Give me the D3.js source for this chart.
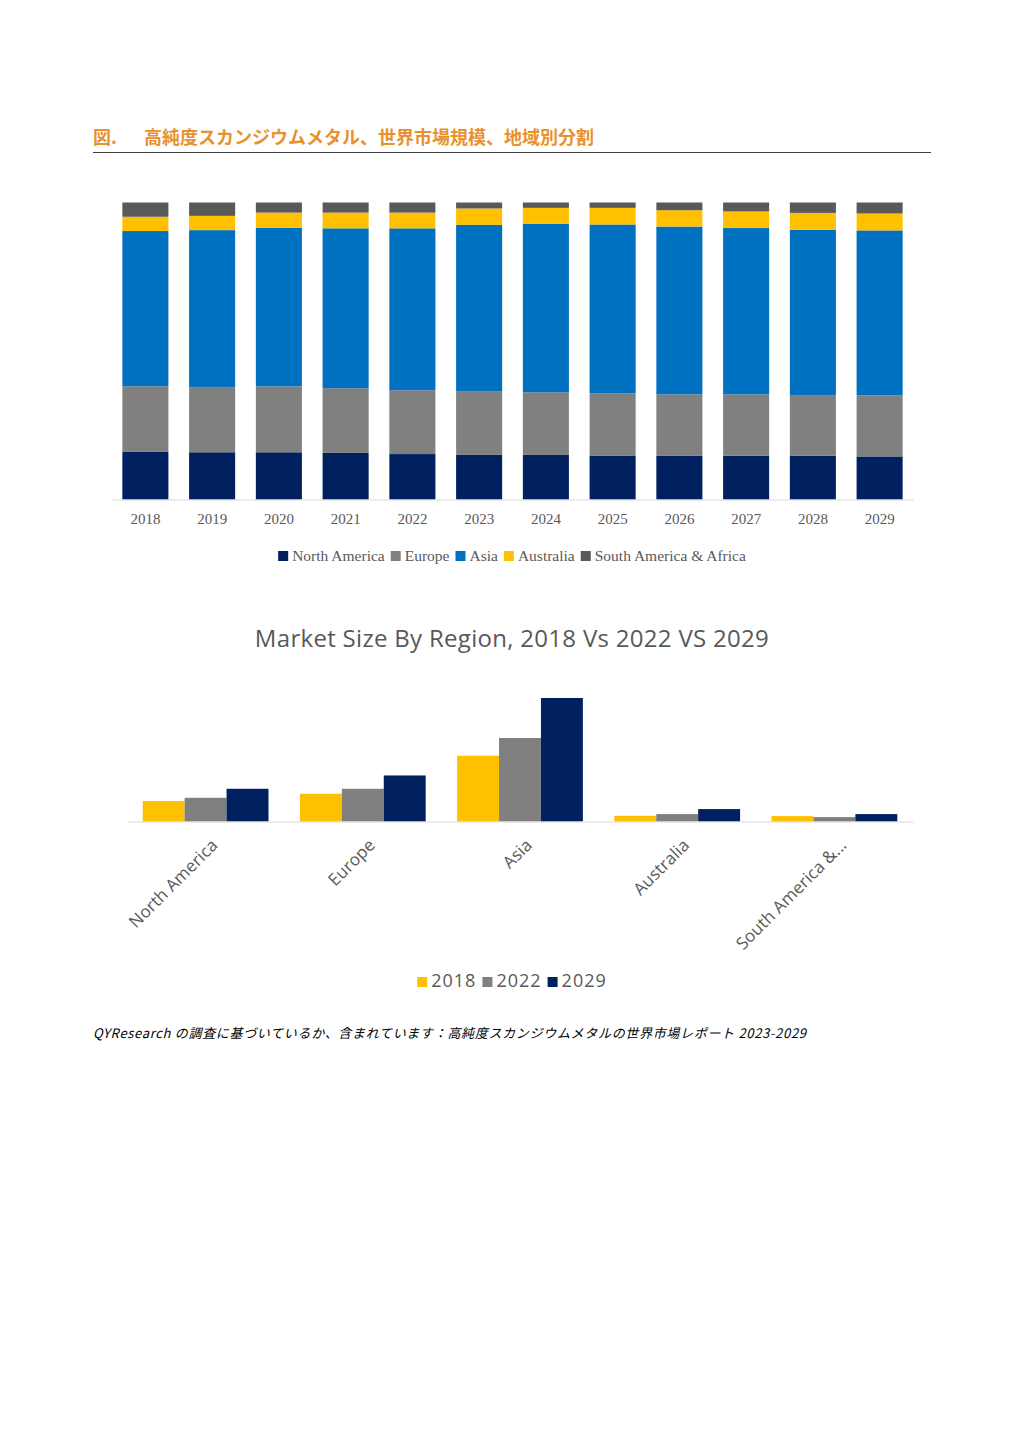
<!DOCTYPE html>
<html>
<head>
<meta charset="utf-8">
<script src="https://cdn.jsdelivr.net/npm/d3@7"></script>
<style>
  body { margin: 0; background: #fff; }
  svg { display: block; }
</style>
</head>
<body>
<svg id="page" width="1024" height="1448"></svg>
<script>
// Stacked share by region, percent per year
const years = ["2018","2019","2020","2021","2022","2023","2024","2025","2026","2027","2028","2029"];
const northAmerica = [16.0,15.9,15.9,15.7,15.3,15.0,15.0,14.8,14.8,14.7,14.7,14.5];
const europe = [22.1,22.0,22.2,21.8,21.5,21.3,21.1,20.9,20.6,20.7,20.5,20.6];
const asia = [52.2,52.8,53.4,53.9,54.5,56.1,56.7,56.9,56.5,56.0,55.6,55.5];
const australia = [4.8,4.8,5.1,5.3,5.3,5.5,5.4,5.6,5.5,5.6,5.7,5.7];
const southAmericaAfrica = [4.8,4.5,3.4,3.4,3.4,2.0,1.8,1.8,2.6,3.0,3.5,3.7];
const regionNames = ["North America","Europe","Asia","Australia","South America & Africa"];

// Market size by region for 2018 / 2022 / 2029
const regionLabels = ["North America","Europe","Asia","Australia","South America &..."];
const compareYears = ["2018","2022","2029"];
const size2018 = [20.4,27.7,65.7,5.7,5.4];
const size2022 = [23.7,32.7,83.4,7.4,4.4];
const size2029 = [32.7,46.0,123.4,12.4,7.4];

const svg = d3.select("#page");

// ---- header
svg.append("text")
  .attr("x", 93).attr("y", 144)
  .style("font-family", "'Noto Sans CJK JP'")
  .style("font-size", "18px")
  .style("font-weight", "bold")
  .style("fill", "#E8912D")
  .text("図.");
svg.append("text")
  .attr("x", 144).attr("y", 144)
  .style("font-family", "'Noto Sans CJK JP'")
  .style("font-size", "18px")
  .style("font-weight", "bold")
  .style("fill", "#E8912D")
  .text("高純度スカンジウムメタル、世界市場規模、地域別分割");
svg.append("line")
  .attr("x1", 93).attr("x2", 931).attr("y1", 152.5).attr("y2", 152.5)
  .style("stroke", "#404040").style("stroke-width", 1);

// ---- stacked chart
const stackColors = ["#002060","#808080","#0070C0","#FFC000","#595959"];
const rows = years.map((y, i) => ({
  year: y,
  "North America": northAmerica[i],
  "Europe": europe[i],
  "Asia": asia[i],
  "Australia": australia[i],
  "South America & Africa": southAmericaAfrica[i]
}));
const series = d3.stack().keys(regionNames).offset(d3.stackOffsetExpand)(rows);

const x1 = d3.scaleBand().domain(years).range([112, 913]).paddingInner(0.31).paddingOuter(0.155);
const y1 = d3.scaleLinear().domain([0, 1]).range([499.5, 202.5]);

svg.append("g").selectAll("g")
  .data(series)
  .join("g")
  .attr("fill", (d, i) => stackColors[i])
  .selectAll("rect")
  .data(d => d)
  .join("rect")
  .attr("x", d => x1(d.data.year))
  .attr("width", x1.bandwidth())
  .attr("y", d => y1(d[1]))
  .attr("height", d => y1(d[0]) - y1(d[1]));

const ax1 = svg.append("g")
  .attr("transform", "translate(0,499.5)")
  .call(d3.axisBottom(x1).tickSize(0).tickPadding(14));
ax1.select(".domain").style("stroke", "#d9d9d9");
ax1.selectAll("text")
  .style("font-family", "'Liberation Serif'")
  .style("font-size", "15px")
  .style("fill", "#595959");

// legend for stacked chart
const leg1 = svg.append("g");
let lx = 0;
regionNames.forEach((name, i) => {
  const g = leg1.append("g").attr("transform", `translate(${lx},0)`);
  g.append("rect").attr("x", 0).attr("y", -10).attr("width", 10).attr("height", 10)
    .attr("fill", stackColors[i]);
  const t = g.append("text").attr("x", 14).attr("y", 0)
    .style("font-family", "'Liberation Serif'")
    .style("font-size", "15.5px")
    .style("fill", "#595959")
    .text(name);
  lx += 14 + t.node().getComputedTextLength() + 6;
});
leg1.attr("transform", `translate(${512 - (lx - 6) / 2},561)`);

// ---- grouped chart
const groupColors = ["#FFC000","#808080","#002060"];
const sizes = [size2018, size2022, size2029];

svg.append("text")
  .attr("x", 512).attr("y", 647)
  .attr("text-anchor", "middle")
  .style("font-family", "'Open Sans'")
  .style("font-size", "24px")
  .style("letter-spacing", "0.3px")
  .style("fill", "#595959")
  .text("Market Size By Region, 2018 Vs 2022 VS 2029");

const x2 = d3.scaleBand().domain(regionLabels).range([127, 913]).paddingInner(0.2).paddingOuter(0.1);
const xs = d3.scaleBand().domain(compareYears).range([0, x2.bandwidth()]);
const y2 = d3.scaleLinear().domain([0, 123.4]).range([821.5, 698]);

const groups = svg.append("g").selectAll("g")
  .data(regionLabels)
  .join("g")
  .attr("transform", d => `translate(${x2(d)},0)`);

groups.selectAll("rect")
  .data((d, i) => compareYears.map((yr, k) => ({ yr, v: sizes[k][i], k })))
  .join("rect")
  .attr("x", d => xs(d.yr))
  .attr("width", xs.bandwidth())
  .attr("y", d => y2(d.v))
  .attr("height", d => y2(0) - y2(d.v))
  .attr("fill", d => groupColors[d.k]);

const ax2 = svg.append("g")
  .attr("transform", "translate(0,821.5)")
  .call(d3.axisBottom(x2).tickSize(0).tickFormat(""));
ax2.select(".domain").style("stroke", "#d9d9d9");

svg.append("g").selectAll("text")
  .data(regionLabels)
  .join("text")
  .attr("transform", d => `translate(${x2(d) + x2.bandwidth() / 2 + 9},842) rotate(-45)`)
  .attr("text-anchor", "end")
  .attr("dy", "0.35em")
  .style("font-family", "'Open Sans'")
  .style("font-size", "17px")
  .style("letter-spacing", "0.1px")
  .style("fill", "#595959")
  .text(d => d);

// legend for grouped chart
const leg2 = svg.append("g");
let lx2 = 0;
compareYears.forEach((yr, i) => {
  const g = leg2.append("g").attr("transform", `translate(${lx2},0)`);
  g.append("rect").attr("x", 0).attr("y", -10).attr("width", 10).attr("height", 10)
    .attr("fill", groupColors[i]);
  const t = g.append("text").attr("x", 14).attr("y", 0)
    .style("font-family", "'Open Sans'")
    .style("font-size", "18px")
    .style("letter-spacing", "1px")
    .style("fill", "#595959")
    .text(yr);
  lx2 += 14 + t.node().getComputedTextLength() + 6;
});
leg2.attr("transform", `translate(${512 - (lx2 - 6) / 2},987)`);

// ---- source note
svg.append("text")
  .attr("x", 93).attr("y", 1038)
  .attr("textLength", 713)
  .attr("lengthAdjust", "spacing")
  .style("font-family", "'Noto Sans CJK JP'")
  .style("font-size", "13px")
  .style("font-style", "italic")
  .style("fill", "#000")
  .text("QYResearch の調査に基づいているか、含まれています：高純度スカンジウムメタルの世界市場レポート 2023-2029");
</script>
</body>
</html>
